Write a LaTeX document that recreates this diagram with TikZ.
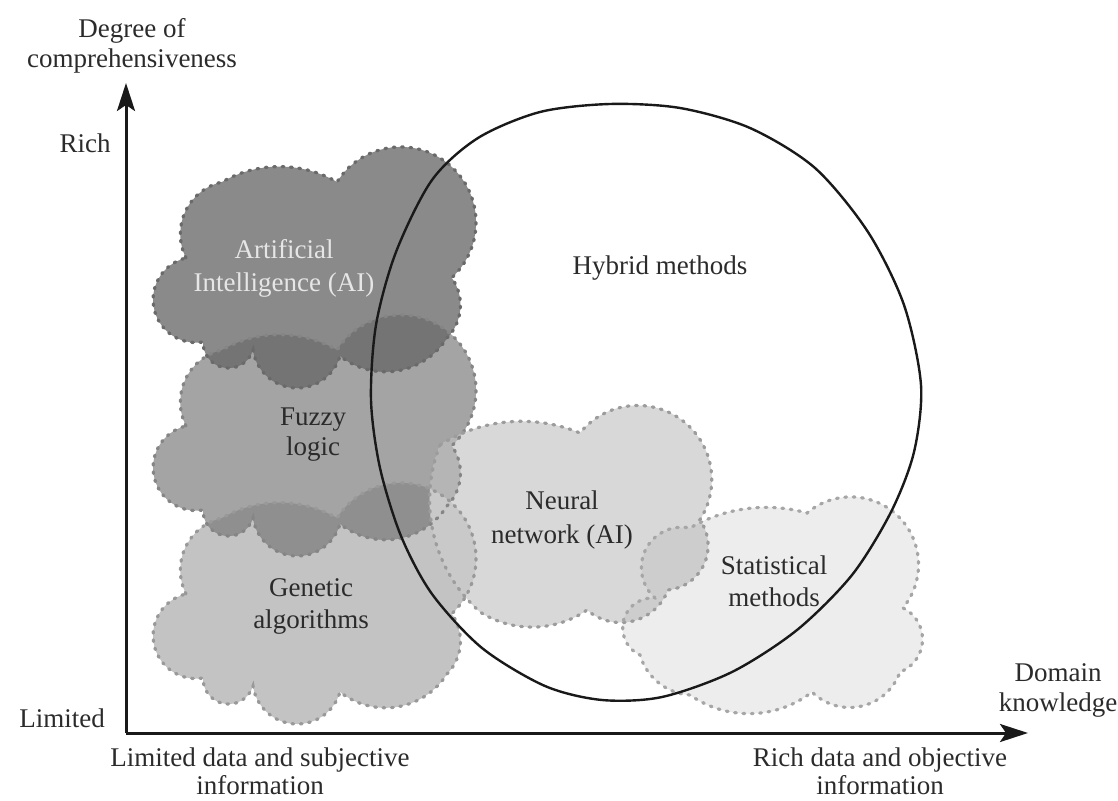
\documentclass[tikz,border=0pt]{standalone}
\usepackage{fontspec}
\setmainfont{Liberation Serif}
\usetikzlibrary{arrows.meta,calc}

\definecolor{cloudA}{HTML}{8A8A8A}
\definecolor{cloudF}{HTML}{A4A4A4}
\definecolor{cloudG}{HTML}{C3C3C3}
\definecolor{cloudN}{HTML}{D8D8D8}
\definecolor{cloudS}{HTML}{EDEDED}
\definecolor{lensAF}{HTML}{747474}
\definecolor{lensFG}{HTML}{8F8F8F}
\definecolor{lensFN}{HTML}{B5B5B5}
\definecolor{lensGN}{HTML}{C9C9C9}
\definecolor{lensNS}{HTML}{CDCDCD}
\definecolor{rimA}{HTML}{6A6A6A}
\definecolor{rimF}{HTML}{858585}
\definecolor{rimG}{HTML}{999999}
\definecolor{rimN}{HTML}{9C9C9C}
\definecolor{rimS}{HTML}{A6A6A6}
\definecolor{ink}{HTML}{2B2B2B}
\definecolor{aitext}{HTML}{E6E6E6}

% Block-shaped cloud (used three times, stacked); #1 = downward offset
\newcommand\blockcloud[1]{(186,{-258-#1}) to[puff=104] (222,{-182-#1})
  to[puff=60] (337,{-182-#1}) to[puff=195] (452,{-278-#1})
  to[puff=80] (447,{-338-#1}) to[puff=96] (340,{-356-#1})
  to[puff=155] (253,{-350-#1}) to[puff=164] (203,{-342-#1})
  to[puff=176] (186,{-258-#1}) -- cycle}
\newcommand\neuralcloud{(440,-445) to[puff=55] (580,-433)
  to[puff=174] (700,-520) to[puff=120] (668,-590)
  to[puff=110] (587,-610) to[puff=67] (480,-612)
  to[puff=70] (440,-445) -- cycle}
\newcommand\statcloud{(655,-598) to[puff=150] (690,-528)
  to[puff=46] (807,-513) to[puff=170] (903,-608)
  to[puff=133] (900,-672) to[puff=115] (812,-692)
  to[puff=73] (690,-695) to[puff=70] (640,-655)
  to[puff=160] (655,-598) -- cycle}

\begin{document}
\begin{tikzpicture}[x=0.5pt,y=0.5pt,
  puff/.style={to path={let \p1=(\tikztostart), \p2=(\tikztotarget),
      \n1={atan2(\y2-\y1,\x2-\x1)},
      \n2={veclen(\x2-\x1,\y2-\y1)/(2*sin(#1/2))}
    in arc[start angle=\n1+90+#1/2, end angle=\n1+90-#1/2, radius=\n2]}},
  rim/.style={draw=#1, line width=1.6pt, line cap=round,
    dash pattern=on 0.9pt off 3.3pt},
  txt/.style={font=\fontsize{13.5}{15}\selectfont, text=ink,
    align=center, inner sep=0pt},
  axisline/.style={line width=1.5pt, draw=black!90,
    -{Stealth[length=14pt,width=9pt,inset=3pt]}},
  hull/.style={line width=1.2pt, draw=black!90}
]
\useasboundingbox (0,0) rectangle (1118,-801);

% cloud bodies
\fill[cloudG] \blockcloud{336};
\fill[cloudF] \blockcloud{168};
\fill[cloudA] \blockcloud{0};
\fill[cloudN] \neuralcloud;
\fill[cloudS] \statcloud;

% overlapping parts
\begin{scope}
  \clip \blockcloud{168};
  \fill[lensAF] \blockcloud{0};
\end{scope}
\begin{scope}
  \clip \blockcloud{336};
  \fill[lensFG] \blockcloud{168};
\end{scope}
\begin{scope}
  \clip \neuralcloud;
  \fill[lensFN] \blockcloud{168};
  \fill[lensGN] \blockcloud{336};
\end{scope}
\begin{scope}
  \clip \neuralcloud;
  \fill[lensNS] \statcloud;
\end{scope}

% dotted cloud rims
\path[rim=rimG] \blockcloud{336};
\path[rim=rimF] \blockcloud{168};
\path[rim=rimA] \blockcloud{0};
\path[rim=rimN] \neuralcloud;
\path[rim=rimS] \statcloud;

% hybrid region
\draw[hull] plot[smooth cycle] coordinates {
  (371,-400) (376,-325) (396,-252) (432,-180) (478,-138) (540,-112)
  (610,-104) (680,-108) (750,-128) (815,-168) (868,-232) (904,-305)
  (921,-385) (914,-452) (891,-512) (852,-575) (797,-630) (732,-672)
  (662,-697) (602,-700) (545,-686) (482,-648) (432,-594) (401,-536)
  (380,-468)};

% axes
\coordinate (origin) at (126,-733);
\coordinate (ytip) at (126,-83);
\coordinate (xtip) at (1028,-733);
\draw[axisline] (origin) -- (ytip);
\draw[axisline] (origin) -- (xtip);

% axis labels
\node[txt] (ytitle) at (132,-46) {Degree of\\comprehensiveness};
\node[txt] (yrich) at (85,-143) {Rich};
\node[txt] (ylimited) at (62,-718) {Limited};
\node[txt, font=\fontsize{13.5}{14}\selectfont] (xleft) at (260,-771)
  {Limited data and subjective\\information};
\node[txt, font=\fontsize{13.5}{14}\selectfont] (xright) at (880,-771)
  {Rich data and objective\\information};
\node[txt] (xtitle) at (1058,-690) {Domain\\knowledge};

% region labels
\node[txt, text=aitext, font=\fontsize{13.5}{16.5}\selectfont] (ailabel)
  at (284,-268) {Artificial\\Intelligence (AI)};
\node[txt] (fuzzylabel) at (313,-435) {Fuzzy\\logic};
\node[txt, font=\fontsize{13.5}{16}\selectfont] (genlabel)
  at (311,-606) {Genetic\\algorithms};
\node[txt, font=\fontsize{13.5}{17}\selectfont] (neurallabel)
  at (562,-520) {Neural\\network (AI)};
\node[txt, font=\fontsize{13.5}{16}\selectfont] (statlabel)
  at (774,-581) {Statistical\\methods};
\node[txt] (hybridlabel) at (660,-268) {Hybrid methods};
\end{tikzpicture}
\end{document}
